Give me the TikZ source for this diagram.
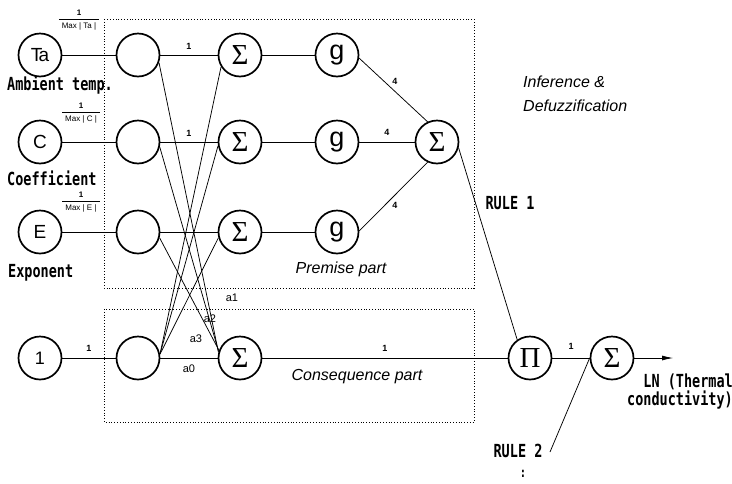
\documentclass[tikz,border=0pt]{standalone}
\usepackage{fontspec}
\setmainfont{Liberation Sans}
\newfontfamily\serifgr{Liberation Serif}
\newfontfamily\condmono[FakeStretch=0.75]{DejaVu Sans Mono}
\usetikzlibrary{arrows.meta}
\begin{document}
\begin{tikzpicture}[x=1pt,y=-1pt,
  neuron/.style={circle,draw,line width=1.7pt,minimum size=43pt,inner sep=0pt},
  innode/.style={neuron,font=\fontsize{19}{19}\selectfont},
  signode/.style={neuron,font=\serifgr\fontsize{29}{29}\selectfont},
  gnode/.style={neuron,font=\fontsize{27}{27}\selectfont},
  conn/.style={line width=0.75pt},
  wlab/.style={font=\bfseries\fontsize{9}{9}\selectfont,inner sep=0pt},
  alab/.style={font=\fontsize{11}{11}\selectfont,inner sep=0pt},
  mono/.style={font=\condmono\bfseries\fontsize{18}{13}\selectfont,inner sep=0pt},
  part/.style={font=\itshape\fontsize{16}{24}\selectfont,inner sep=0pt},
  box/.style={dotted,line width=0.8pt},
  fraclab/.style={font=\fontsize{8}{8}\selectfont,inner sep=0pt}
]
\useasboundingbox (0,0) rectangle (732,483);
% dotted boxes
\draw[box] (104,19) rectangle (474,288);
\draw[box] (104,309) rectangle (474,422);
% input nodes
\node[innode] (iT) at (40,55) {T\kern-4pt a};
\node[innode] (iC) at (40,142) {C};
\node[innode] (iE) at (40,232) {E};
\node[innode,font=\fontsize{18}{18}\selectfont] (i1) at (40,358) {1};
% normalisation nodes
\node[neuron] (cT) at (138,55) {};
\node[neuron] (cC) at (138,142) {};
\node[neuron] (cE) at (138,232) {};
\node[neuron] (c1) at (138,358) {};
% sum nodes
\node[signode] (sT) at (240,55) {Σ};
\node[signode] (sC) at (240,142) {Σ};
\node[signode] (sE) at (240,232) {Σ};
\node[signode] (sK) at (240,358) {Σ};
% g nodes
\node[gnode] (gT) at (337,55) {g};
\node[gnode] (gC) at (337,142) {g};
\node[gnode] (gE) at (337,232) {g};
% inference
\node[signode] (so) at (437,142) {Σ};
\node[signode] (Pi) at (530,358) {Π};
\node[signode] (sf) at (612,358) {Σ};
\coordinate (out) at (673,358);
\coordinate (r2) at (550,452);
% fractions
\node[fraclab] (fT) at (79,20) {\begin{tabular}{@{\hspace{3pt}}c@{\hspace{3pt}}}\textbf{1}\\[1pt]\hline\rule{0pt}{9pt}Max\ |\ Ta\ |\end{tabular}};
\node[fraclab] (fC) at (81,113) {\begin{tabular}{@{\hspace{3pt}}c@{\hspace{3pt}}}\textbf{1}\\[1pt]\hline\rule{0pt}{9pt}Max\ |\ C\ |\end{tabular}};
\node[fraclab] (fE) at (81,202) {\begin{tabular}{@{\hspace{3pt}}c@{\hspace{3pt}}}\textbf{1}\\[1pt]\hline\rule{0pt}{9pt}Max\ |\ E\ |\end{tabular}};
% input names
\node[mono,anchor=west] (nT) at (7,85) {Ambient temp.};
\node[mono,anchor=west] (nC) at (7,178) {Coefficient};
\node[mono,anchor=west] (nE) at (8,273) {Exponent};
% connections input -> normalisation
\draw[conn] (iT) -- (cT);
\draw[conn] (iC) -- (cC);
\draw[conn] (iE) -- (cE);
\draw[conn] (i1) -- node[wlab,above=6pt] {1} (c1);
% normalisation -> sums
\draw[conn] (cT) -- node[wlab,above=5pt] {1} (sT);
\draw[conn] (cC) -- node[wlab,above=5pt] {1} (sC);
\draw[conn] (cE) -- (sE);
\draw[conn] (c1) -- node[alab,below=6pt] {a0} (sK);
\draw[conn] (cT.-20) -- (sK.165);
\draw[conn] (cC.-13) -- (sK.163);
\draw[conn] (cE.-15) -- (sK.160);
\draw[conn] (c1.10) -- (sT.212);
\draw[conn] (c1.10) -- (sC.190);
\draw[conn] (c1.10) -- (sE.195);
\node[alab] (la1) at (232,298) {a1};
\node[alab] (la2) at (210,319) {a2};
\node[alab] (la3) at (196,339) {a3};
% sums -> g
\draw[conn] (sT) -- (gT);
\draw[conn] (sC) -- (gC);
\draw[conn] (sE) -- (gE);
% g -> output sum
\draw[conn] (gT.-8) -- node[wlab,above right=2pt,pos=0.45] {4} (so.115);
\draw[conn] (gC) -- node[wlab,above=6pt] {4} (so);
\draw[conn] (gE.3) -- node[wlab,below right=2pt,pos=0.45] {4} (so.245);
% rule 1
\draw[conn] (so.-15) -- (Pi.125);
\node[mono] (rule1) at (510,203) {RULE 1};
\draw[conn] (sK) -- node[wlab,above=6pt] {1} (Pi);
\draw[conn] (Pi) -- node[wlab,above=8pt] {1} (sf);
\draw[conn,-{Latex[length=11pt,width=5pt]}] (sf) -- (out);
\draw[conn] (r2) -- (sf.west);
\node[mono] (rule2) at (518,451) {RULE 2};
\node[mono,font=\condmono\bfseries\fontsize{14}{14}\selectfont] (dots) at (523,474) {:};
\node[mono,align=right,anchor=east] (ln) at (733,392) {LN (Thermal\\conductivity)};
% part labels
\node[part] (prem) at (341,269) {Premise part};
\node[part] (cons) at (357,377) {Consequence part};
\node[part,align=left,anchor=west] (inf) at (523,94) {Inference \&\\Defuzzification};
\end{tikzpicture}
\end{document}
